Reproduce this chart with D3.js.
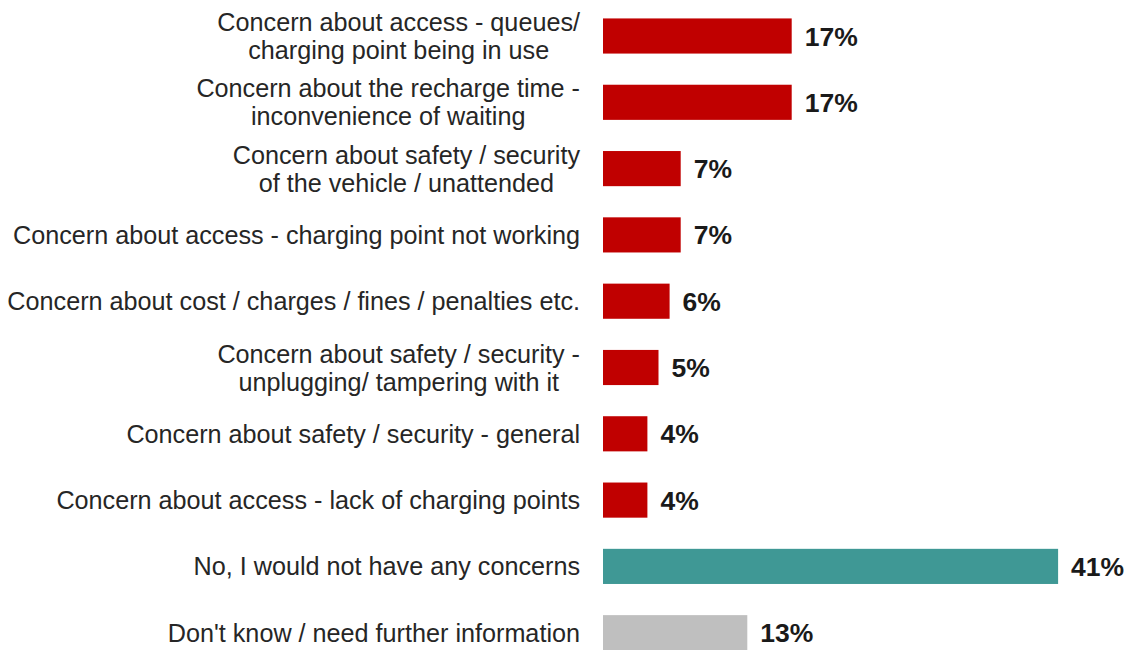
<!DOCTYPE html>
<html>
<head>
<meta charset="utf-8">
<script src="https://cdn.jsdelivr.net/npm/d3@7"></script>
<style>
  html, body { margin: 0; padding: 0; background: #ffffff; }
  svg { display: block; }
  text { font-family: "Liberation Sans", Arial, sans-serif; }
</style>
</head>
<body>
<svg id="chart" width="1129" height="650"></svg>
<script>
// Survey responses: concerns about using public charging points
const categories = [
  "Concern about access - queues/\ncharging point being in use",
  "Concern about the recharge time -\ninconvenience of waiting",
  "Concern about safety / security\nof the vehicle / unattended",
  "Concern about access - charging point not working",
  "Concern about cost / charges / fines / penalties etc.",
  "Concern about safety / security -\nunplugging/ tampering with it",
  "Concern about safety / security - general",
  "Concern about access - lack of charging points",
  "No, I would not have any concerns",
  "Don't know / need further information"
];
const values = [17, 17, 7, 7, 6, 5, 4, 4, 41, 13];
const groups = ["concern", "concern", "concern", "concern", "concern",
                "concern", "concern", "concern", "none", "unsure"];

const colour = d3.scaleOrdinal()
  .domain(["concern", "none", "unsure"])
  .range(["#C00000", "#3F9895", "#BFBFBF"]);

const svg = d3.select("#chart");
const barLeft = 603;
const labelRight = 580;

const x = d3.scaleLinear().domain([0, 50]).range([barLeft, barLeft + 555]);
const y = d3.scaleBand()
  .domain(categories)
  .range([2.85, 665.85])
  .paddingInner(0.47)
  .paddingOuter(0.235);

const rows = categories.map((c, i) => ({ cat: c, value: values[i], group: groups[i] }));

// bars
svg.append("g").selectAll("rect")
  .data(rows)
  .join("rect")
  .attr("x", x(0))
  .attr("y", d => y(d.cat))
  .attr("width", d => x(d.value) - x(0))
  .attr("height", y.bandwidth())
  .attr("fill", d => colour(d.group));

// value labels
svg.append("g").selectAll("text")
  .data(rows)
  .join("text")
  .attr("x", d => x(d.value) + 13)
  .attr("y", d => y(d.cat) + y.bandwidth() / 2)
  .attr("dy", "0.36em")
  .attr("font-size", 26.5)
  .attr("font-weight", "bold")
  .attr("fill", "#1a1a1a")
  .text(d => d.value + "%");

// category labels: each block is right-aligned, its lines centred within it
const fontSize = 25.2;
const lineGap = 28;
const labelG = svg.append("g");
rows.forEach(d => {
  const lines = d.cat.split("\n");
  const t = labelG.append("text")
    .attr("font-size", fontSize)
    .attr("fill", "#262626")
    .attr("text-anchor", "middle");
  const cy = y(d.cat) + y.bandwidth() / 2;
  const spans = lines.map((ln, j) => t.append("tspan")
    .attr("y", cy + (j - (lines.length - 1) / 2) * lineGap)
    .attr("dy", "0.36em")
    .text(ln));
  const widest = d3.max(spans, s => s.node().getComputedTextLength());
  spans.forEach(s => s.attr("x", labelRight - widest / 2));
});
</script>
</body>
</html>
